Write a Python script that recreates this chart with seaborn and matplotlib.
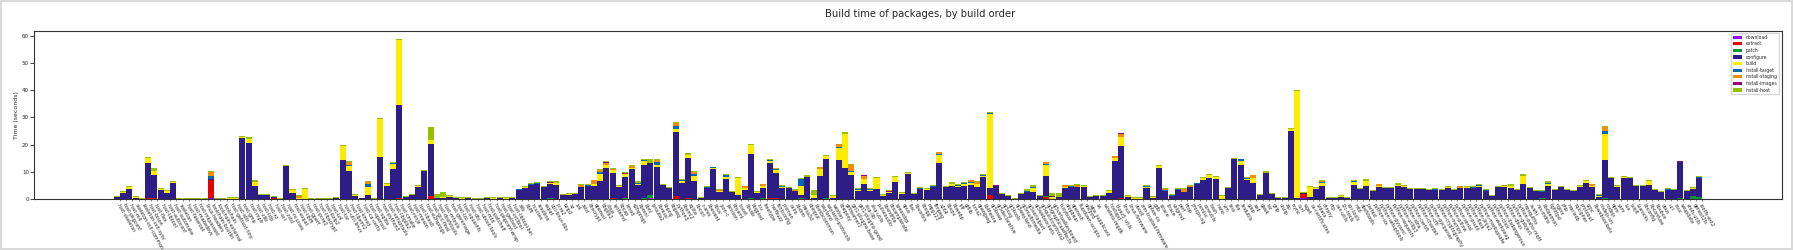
import numpy as np
import matplotlib
matplotlib.use('Agg')
import matplotlib.pyplot as plt
from matplotlib.patches import Patch
import seaborn as sns


steps = ['download', 'extract', 'patch', 'configure', 'build',
         'install-target', 'install-staging', 'install-images', 'install-host']
colors = ['#8d02ff', '#e60004', '#009836', '#2e1d86', '#ffed00',
          '#0068b5', '#f28e00', '#940084', '#97c000']

# packages, in build order
packages = [
    'host-skeleton', 'host-pkgconf', 'host-m4', 'skeleton-init-common', 'skeleton-init-sysv',
    'host-bison', 'host-flex', 'host-libtool', 'host-autoconf', 'host-automake',
    'skeleton', 'host-fakeroot', 'host-makedevs', 'host-mkpasswd', 'linux-headers',
    'toolchain-bootlin', 'toolchain-external', 'toolchain', 'host-gettext-tiny', 'host-attr',
    'host-gmp', 'host-mpfr', 'host-zlib', 'host-lzip', 'host-xz',
    'host-acl', 'host-zstd', 'host-ncurses', 'host-expat', 'host-libffi',
    'host-gperf', 'host-pcre2', 'host-libxcrypt', 'host-bzip2', 'host-lz4',
    'host-tar', 'host-util-linux', 'host-libxml2', 'host-kmod', 'host-ca-certs',
    'host-openssl', 'host-sqlite', 'host-python3', 'host-setuptools', 'host-libglib2',
    'host-cmake', 'host-ninja', 'host-meson', 'host-libxslt', 'host-e2fsprogs',
    'host-gcc-final', 'host-dosfstools', 'host-mtools', 'host-genimage', 'host-lzo',
    'host-squashfs', 'host-dtc', 'host-uboot-tools', 'host-mtd', 'host-patchelf',
    'host-pkgconf-wrap', 'host-gettext', 'host-intltool', 'host-libtool-bin', 'zlib',
    'libffi', 'ncurses', 'readline', 'expat', 'util-linux-libs',
    'pcre2', 'bzip2', 'xz', 'lz4', 'zstd',
    'libxcrypt', 'openssl', 'libglib2', 'dbus', 'systemd',
    'libcap', 'kmod', 'e2fsprogs', 'libmnl', 'libnl',
    'iproute2', 'libressl', 'libpng', 'libjpeg', 'python3',
    'libxml2', 'sqlite', 'libcurl', 'c-ares', 'libevent',
    'libuv', 'json-c', 'jansson', 'libyaml', 'boost',
    'libusb', 'libgpiod', 'icu', 'freetype', 'harfbuzz',
    'fontconfig', 'pixman', 'cairo', 'libdrm', 'mesa3d',
    'libinput', 'libxkbcommon', 'wayland', 'wayland-protocols', 'weston',
    'libepoxy', 'gstreamer1', 'gst1-plugins-base', 'gst1-plugins-good', 'alsa-lib',
    'alsa-utils', 'pulseaudio', 'libsndfile', 'libsamplerate', 'speexdsp',
    'opus', 'flac', 'libvorbis', 'libogg', 'mpg123',
    'ffmpeg', 'x264', 'libvpx', 'libwebp', 'tiff',
    'giflib', 'lcms2', 'openjpeg', 'libtheora', 'qt5base',
    'qt5declarative', 'qt5svg', 'qt5tools', 'qt5wayland', 'qt5multimedia',
    'qt5serialport', 'qt5websockets', 'qt5quickcontrols2', 'qt5graphicaleffects', 'qt5virtualkeyboard',
    'busybox', 'dropbear', 'openssh', 'ifupdown-scripts', 'dhcpcd',
    'wpa_supplicant', 'iw', 'wireless-regdb', 'hostapd', 'bluez5_utils',
    'linux', 'linux-firmware', 'uboot', 'arm-trusted-firmware', 'optee-os',
    'gdb', 'strace', 'ltrace', 'valgrind', 'perf',
    'htop', 'procps-ng', 'psmisc', 'coreutils', 'bash',
    'nano', 'vim', 'less', 'file', 'findutils',
    'grep', 'sed', 'gawk', 'tar', 'gzip',
    'unzip', 'zip', 'rsync', 'curl', 'wget',
    'ca-certificates', 'tzdata', 'chrony', 'ntp', 'can-utils',
    'i2c-tools', 'spi-tools', 'mtd', 'dosfstools', 'parted',
    'python-six', 'python-setuptools', 'python-pyyaml', 'python-requests', 'python-urllib3',
    'python-idna', 'python-certifi', 'python-chardet', 'python-cffi', 'python-pycparser',
    'python-cryptography', 'python-numpy', 'python-pillow', 'python-serial', 'python-psutil',
    'python-flask', 'python-jinja2', 'python-markupsafe', 'python-werkzeug', 'python-click',
    'python-itsdangerous', 'python-dbus', 'python-gobject', 'python-paho-mqtt', 'mosquitto',
    'avahi', 'nss-mdns', 'libdaemon', 'lighttpd', 'nginx',
    'php', 'mariadb', 'sqlcipher', 'protobuf', 'grpc',
    'libwebsockets', 'nodejs-src', 'nodejs', 'npm', 'yarn',
    'lua', 'luajit', 'luarocks', 'libconfig', 'libconfuse',
    'libubox', 'ubus', 'uci', 'rauc', 'swupdate',
    'erofs-utils', 'genext2fs', 'rootfs-ext2',
]

# seconds per step, one value per package
configure = [
    0.85, 2.45, 3.8, 0.5, 0, 12.9, 8.5, 3.43, 2.33, 6.0,
    0, 0, 0, 0, 0, 0.35, 0, 0, 0, 0,
    22.5, 20.7, 4.9, 1.6, 1.6, 0.3, 0, 12.24, 2.33, 0.2,
    0.2, 0, 0, 0, 0, 0.4, 14.44, 10.4, 1.22, 0.2,
    1.4, 0, 15.5, 4.9, 11.14, 34.2, 0.86, 1.59, 4.53, 10.4,
    19.1, 0.4, 0.4, 0.86, 0.5, 0, 0.3, 0, 0, 0.5,
    0, 0.5, 0, 0.5, 3.43, 4.16, 5.39, 5.75, 4.65, 5.2,
    5.26, 1.71, 1.71, 2.08, 4.65, 4.9, 4.9, 6.73, 11.5, 9.2,
    4.53, 7.7, 11.14, 5.26, 12.1, 11.7, 11.87, 5.26, 4.16, 23.5,
    6.0, 14.7, 6.73, 0.45, 4.16, 11.1, 2.8, 7.47, 2.7, 1.6,
    3.43, 16.3, 2.33, 3.9, 13.0, 9.3, 4.16, 4.16, 3.06, 1.3,
    8.2, 0.45, 8.57, 14.5, 0.3, 14.4, 11.5, 8.94, 3.06, 5.63,
    3.06, 3.8, 1.22, 2.3, 6.36, 1.96, 9.3, 1.96, 3.8, 3.43,
    4.53, 13.34, 4.53, 4.9, 4.5, 4.9, 5.26, 4.53, 8.3, 2.6,
    4.9, 1.96, 1.22, 0, 1.96, 2.7, 2.7, 1.22, 7.5, 0.1,
    0.7, 4.16, 4.53, 4.53, 4.53, 0.86, 1.22, 1.22, 2.33, 14.1,
    19.2, 0.86, 0, 0, 4.16, 0.5, 11.5, 3.06, 1.22, 3.43,
    2.7, 4.53, 5.63, 7.1, 7.83, 7.47, 0.2, 4.16, 14.8, 12.6,
    7.1, 6.0, 1.59, 9.67, 1.96, 0.5, 0.5, 24.9, 0.5, 0.3,
    0.86, 3.8, 4.9, 0.5, 0.5, 0.86, 0.5, 5.26, 3.8, 4.9,
    3.06, 4.53, 4.16, 4.16, 4.9, 4.53, 3.8, 3.8, 3.8, 3.43,
    3.43, 3.43, 4.16, 3.43, 4.16, 4.16, 4.16, 4.53, 3.06, 1.22,
    4.53, 4.53, 4.16, 3.43, 5.63, 4.16, 3.06, 2.3, 4.9, 3.43,
    4.53, 3.43, 3.06, 4.53, 6.0, 4.53, 0.86, 14.1, 7.83, 4.53,
    7.83, 7.83, 4.9, 4.9, 5.26, 3.43, 2.7, 3.43, 3.43, 13.3,
    3.06, 2.6, 7.0,
]

build = [
    0, 0.35, 0.7, 0.3, 0, 1.85, 1.6, 0.5, 0.85, 0.5,
    0, 0, 0, 0, 0, 0, 0, 0, 0.45, 0.45,
    0.37, 1.45, 1.6, 0, 0, 0, 0, 0, 1.1, 0.4,
    3.7, 0, 0, 0, 0, 0, 5.15, 1.84, 0.37, 0,
    2.94, 0, 14.0, 0.73, 1.84, 23.9, 0, 0, 0.37, 0,
    1.47, 0, 0.4, 0.37, 0, 0.4, 0, 0, 0, 0,
    0.5, 0, 0.4, 0, 0, 0.5, 0, 0, 0, 0.5,
    0.73, 0, 0.37, 0, 0, 0, 0.86, 2.57, 1.1, 0.86,
    0.37, 1.22, 0.37, 0.37, 1.47, 0, 0.73, 0, 0, 1.1,
    0.73, 1.1, 1.84, 0, 0, 0.25, 0.25, 0.86, 0, 6.24,
    0.73, 3.3, 0.5, 0.73, 0.73, 1.1, 0.37, 0, 0, 3.3,
    0, 1.1, 2.57, 1.1, 0.9, 4.4, 12.5, 1.1, 0.37, 1.84,
    0.5, 4.04, 0.37, 0.3, 1.84, 0.37, 0.37, 0, 0, 0.5,
    0, 2.94, 0, 0.73, 0.4, 0.73, 0.73, 1.1, 0.3, 27.2,
    0, 0, 0, 0, 0, 0, 1.47, 0, 4.04, 0.75,
    0, 0.37, 0, 0, 0.37, 0, 0, 0, 0.73, 1.1,
    3.3, 0.37, 0.5, 0.5, 0.37, 0.37, 0.73, 0, 0, 0,
    0, 0, 0, 0.73, 1.1, 0.73, 0.9, 0, 0, 1.47,
    0.37, 1.84, 0, 0, 0, 0, 0, 0.73, 39.3, 0,
    3.67, 0.37, 1.1, 0, 0, 0.37, 0, 1.1, 0, 1.84,
    0, 0.37, 0, 0, 0.37, 0.37, 0, 0, 0, 0,
    0, 0, 0.37, 0, 0, 0.37, 0, 0.37, 0, 0,
    0, 0.37, 0.73, 0, 2.94, 0, 0, 0, 0.73, 0,
    0, 0, 0, 0.37, 0.73, 0.37, 0.37, 9.5, 0, 0.37,
    0.37, 0, 0, 0, 1.47, 0, 0, 0, 0, 0,
    0, 0.37, 0,
]

install_host = [
    0.35, 0.4, 0.4, 0.4, 0.45, 0.35, 1.0, 0.25, 0.37, 0.37,
    0.4, 0.4, 0.4, 0.4, 0.4, 0.5, 0.4, 0.4, 0.4, 0.4,
    0.37, 0.75, 0.6, 0.37, 0.37, 0.3, 0.4, 0.37, 0.37, 0.4,
    0.37, 0.5, 0.5, 0.5, 0.5, 0.35, 0.37, 0.15, 0.37, 0.3,
    0.37, 0.4, 0.37, 0.37, 0.37, 0.37, 0.37, 0.37, 0.37, 0.37,
    4.77, 1.6, 1.8, 0.37, 0.37, 0.4, 0.3, 0.4, 0.4, 0.37,
    0.37, 0.37, 0.37, 0.3, 0.25, 0.25, 0.35, 0.25, 0.25, 0.5,
    0.86, 0.37, 0.25, 0.37, 0.37, 0.25, 0, 0.25, 0.37, 0.25,
    0.37, 0.37, 0.2, 0.73, 0.37, 1.47, 0.2, 0.37, 0.2, 0.2,
    0.37, 0.73, 0.2, 0.37, 0.37, 0.25, 0.37, 0.37, 0.37, 0.37,
    0, 0.37, 0.25, 0, 0.37, 0.37, 0.37, 0.37, 0.37, 0.37,
    0.73, 1.84, 0, 0.37, 0.37, 0, 0.73, 0.37, 0.37, 0,
    0.37, 0.37, 0.37, 0.3, 0.37, 0.37, 0.37, 0.37, 0.37, 0.37,
    0.37, 0, 0.37, 0.73, 0.3, 0.5, 0, 0.37, 0.3, 0.37,
    0.25, 0.37, 0.37, 0.5, 0.37, 0.73, 0.73, 0.37, 0, 1.1,
    1.6, 0, 0.37, 0.2, 0.37, 0.37, 0.37, 0.37, 0.37, 0,
    0, 0.37, 0.37, 0.37, 0.37, 0.37, 0.37, 0.2, 0.37, 0.37,
    0.2, 0.25, 0.2, 0.37, 0.37, 0.37, 0.37, 0.37, 0.37, 0,
    0.37, 0, 0.37, 0.73, 0.37, 0.37, 0.37, 0.37, 0.37, 0.4,
    0.37, 0.37, 0.37, 0.37, 0.37, 0.37, 0.37, 0.37, 0.37, 0.73,
    0.37, 0, 0.37, 0.37, 0.73, 0.37, 0.37, 0.37, 0.37, 0.37,
    0.37, 0.37, 0.37, 0.37, 0.1, 0.37, 0.37, 0.37, 0.37, 0.37,
    0.37, 0.37, 0.73, 0.37, 0.73, 0.37, 0.37, 0.25, 0.73, 0.37,
    0.37, 0.37, 0.37, 0.37, 0.37, 0, 0.37, 0.37, 0.37, 0.37,
    0.37, 0.37, 0.37, 0.37, 0.37, 0.37, 0.37, 0.37, 0.37, 0.1,
    0.37, 0.37, 0.37,
]

# rarely used steps: package index -> seconds
download = {15: 0.3, 85: 0.3, 189: 0.3}
extract = {3: 0.1, 5: 0.4, 6: 0.45, 15: 6.8, 25: 0.35, 45: 0.4, 50: 1.22, 79: 0.5,
           85: 0.3, 89: 1.22, 91: 0.5, 104: 0.37, 105: 0.37, 139: 1.59, 148: 0.73,
           160: 0.37, 189: 1.8}
patch = {25: 0.3, 39: 0.15, 40: 0.2, 69: 0.4, 81: 0.5, 84: 0.5, 85: 1.0, 101: 0.3,
         103: 0.3, 109: 0.3, 113: 0.3, 148: 0.37, 187: 0.2, 227: 0.37, 237: 0.37,
         249: 0.37, 251: 1.22, 252: 0.86}
install_target = {15: 1.1, 37: 0.49, 40: 1.1, 44: 0.37, 56: 0.2, 64: 0.25, 66: 0.25,
                  67: 0.35, 75: 0.5, 77: 0.73, 83: 0.37, 84: 0.37, 86: 1.1, 89: 1.1,
                  90: 0.37, 92: 0.73, 94: 0.37, 95: 0.37, 97: 0.5, 104: 0.37, 105: 0.37,
                  106: 0.37, 109: 2.57, 115: 0.37, 117: 0.37, 118: 0.37, 120: 0.25,
                  128: 0.37, 130: 0.5, 131: 0.37, 134: 0.3, 135: 0.37, 136: 0.37,
                  138: 0.4, 139: 0.37, 145: 0.37, 146: 0.37, 148: 0.37, 152: 0.5,
                  164: 0.37, 167: 0.37, 168: 0.37, 169: 0.37, 172: 0.25, 179: 0.73,
                  180: 0.37, 192: 0.37, 197: 0.37, 210: 0.37, 216: 0.37, 217: 0.37,
                  218: 0.37, 227: 0.37, 228: 0.37, 236: 0.37, 237: 1.1, 247: 0.37,
                  252: 0.37}
install_staging = {15: 1.45, 29: 0.5, 37: 0.98, 40: 0.73, 74: 0.6, 76: 1.35, 77: 0.86,
                   78: 0.86, 79: 0.73, 82: 0.73, 86: 0.73, 89: 1.1, 92: 0.73, 96: 0.5,
                   100: 0.73, 103: 0.73, 108: 0.37, 112: 0.73, 115: 1.1, 117: 2.2,
                   119: 1.1, 131: 0.73, 136: 0.73, 137: 0.73, 148: 0.73, 151: 0.73,
                   153: 0.73, 159: 0.73, 160: 1.1, 167: 0.37, 170: 1.1, 171: 0.5,
                   181: 1.1, 192: 0.37, 201: 0.73, 214: 0.73, 235: 0.73, 237: 1.47}
install_images = {69: 0.25, 78: 0.37, 81: 0.37, 119: 0.25, 123: 0.4, 140: 0.25,
                  149: 0.35, 160: 0.37, 249: 0.37}


def expand(sparse, n):
    vals = np.zeros(n)
    for i, v in sparse.items():
        vals[i] = v
    return vals


def pkg_histogram(output):
    n = len(packages)
    vals = [expand(download, n), expand(extract, n), expand(patch, n),
            np.array(configure, dtype=float), np.array(build, dtype=float),
            expand(install_target, n), expand(install_staging, n),
            expand(install_images, n), np.array(install_host, dtype=float)]

    fig = plt.figure(figsize=(17.93, 2.5), dpi=100, linewidth=1.5, edgecolor='#d9d9d9')
    ax = fig.add_axes([0.0191, 0.2028, 0.9745, 0.6744])

    ind = np.arange(n)
    width = 0.96
    bottom = np.zeros(n)
    for color, val in zip(colors, vals):
        sns.barplot(x=ind, y=val, bottom=bottom.copy(), color=color, saturation=1,
                    width=width, errorbar=None, linewidth=0, orient='x', ax=ax)
        bottom = bottom + val

    # same layout as matplotlib's default 5% margins
    lo, hi = -width / 2, n - 1 + width / 2
    pad = 0.05 * (hi - lo)
    ax.set_xlim(lo - pad, hi + pad)
    ax.set_ylim(0, bottom.max() * 1.05)

    ax.set_xticks(ind + 0.5)
    ax.set_xticklabels(packages, rotation=-60, rotation_mode='anchor', ha='left', fontsize=3.4)
    ax.set_yticks(range(0, 61, 10))
    ax.tick_params(axis='x', length=1.5, width=0.4, pad=1)
    ax.tick_params(axis='y', length=2.8, width=0.6, pad=1, labelsize=4)

    for spine in ax.spines.values():
        spine.set_linewidth(0.8)
        spine.set_color('#333333')

    ax.set_xlabel('')
    ax.set_ylabel('Time (seconds)', fontsize=4.5, labelpad=2)
    ax.set_title('Build time of packages, by build order', fontsize=7.2, pad=10, x=0.507)

    handles = [Patch(facecolor=c, edgecolor='none') for c in colors]
    ax.legend(handles, steps, loc='upper right', fontsize=3.3, frameon=True,
              labelspacing=0.35)

    fig.savefig(output, dpi=100)


def main():
    sns.set_style('ticks')
    plt.rcParams['font.family'] = ['DejaVu Sans']
    pkg_histogram('out.png')


if __name__ == "__main__":
    main()
